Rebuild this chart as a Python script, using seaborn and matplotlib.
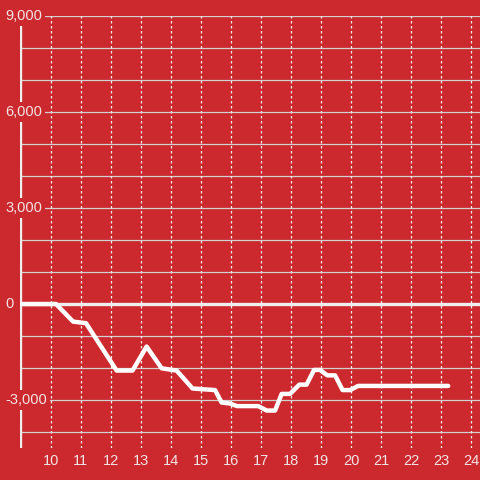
import pandas as pd
import seaborn as sns
import matplotlib.pyplot as plt

# Dados
horas = [9.0, 10.17, 10.74, 11.17, 12.19, 12.72, 13.19, 13.69, 14.19, 14.72,
         15.47, 15.69, 15.97, 16.2, 16.91, 17.19, 17.47, 17.69, 17.97, 18.28,
         18.52, 18.77, 18.97, 19.21, 19.47, 19.72, 19.97, 20.24, 23.24]
valores = [0, 0, -550, -600, -2080, -2080, -1330, -2010, -2080, -2640,
           -2690, -3080, -3110, -3190, -3190, -3330, -3330, -2810, -2810, -2520,
           -2520, -2060, -2060, -2230, -2230, -2690, -2690, -2560, -2560]
xticks = list(range(10, 25))
yticks_rotulos = [9000, 6000, 3000, 0, -3000]
ygrid = list(range(-4000, 9001, 1000))

fundo = '#cc292e'
texto = '#f1e4e4'

df = pd.DataFrame({'hora': horas, 'valor': valores})

sns.set_style('white')
plt.rcParams['font.family'] = ['Liberation Sans', 'DejaVu Sans']

fig = plt.figure(figsize=(4.8, 4.8), dpi=100, facecolor=fundo)
ax = fig.add_axes([20 / 480, 32 / 480, 460 / 480, 432 / 480])
ax.set_facecolor(fundo)

ax.set_xlim(8.97, 24.3)
ax.set_ylim(-4500, 9000)

# Grade
for y in ygrid:
    ax.axhline(y, color='#d0d0d0', lw=0.9, zorder=1)
for x in xticks:
    ax.axvline(x, color='#eeeeee', lw=0.9, ls=(0, (2, 2)), zorder=1)

# Eixo vertical e linha do zero
ax.axvline(8.97, color='#eeeeee', lw=2.4, zorder=2)
ax.axhline(0, color='#eeeeee', lw=2.4, zorder=2)

sns.lineplot(data=df, x='hora', y='valor', color='white', linewidth=3.2,
             ax=ax, zorder=3)

for s in ax.spines.values():
    s.set_visible(False)

ax.set_xticks(xticks)
ax.set_xticklabels([str(t) for t in xticks])
ax.set_yticks([])
ax.tick_params(axis='x', length=0, pad=4, labelsize=10.5, colors=texto)
ax.set_xlabel('')
ax.set_ylabel('')

for v in yticks_rotulos:
    ax.text(-0.031, v, f'{v:,}', transform=ax.get_yaxis_transform(),
            ha='left', va='center', fontsize=10.5, color=texto, zorder=5,
            bbox=dict(facecolor=fundo, edgecolor='none', pad=2))

plt.savefig('out.png', dpi=100, facecolor=fundo)
